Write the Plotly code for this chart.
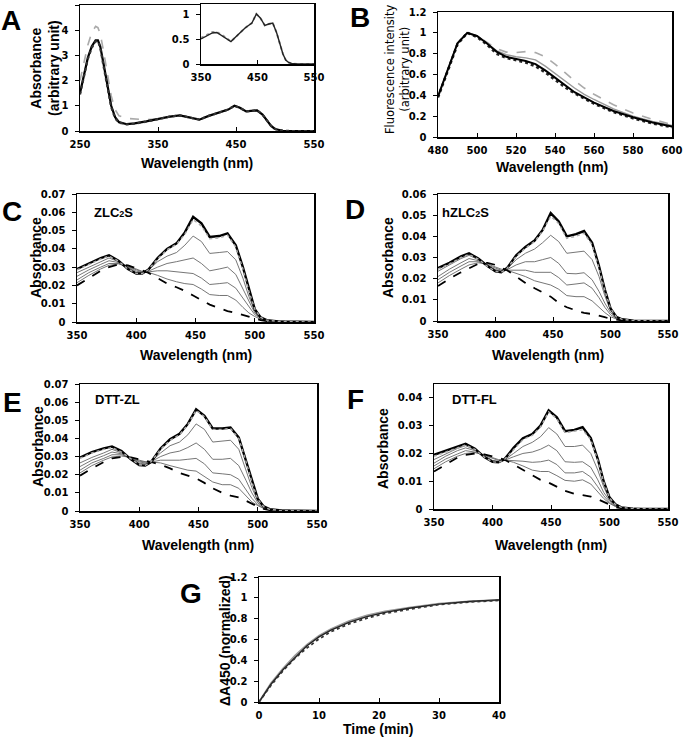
import plotly.graph_objects as go

W, H = 683, 742
TICKFONT = "DejaVu Sans, Verdana, sans-serif"
TITLEFONT = "Liberation Sans, Arial, sans-serif"

# ---------------- Panel A ----------------
A_wl = [250, 255, 260, 265, 270, 273, 276, 280, 285, 290, 295, 300, 310, 320, 335, 350, 365, 378, 390,
        403, 415, 428, 440, 448, 455, 463, 470, 477, 484, 490, 495, 500, 505, 510, 520, 550]
A_black = [1.5, 2.2, 2.9, 3.35, 3.6, 3.6, 3.35, 2.7, 1.8, 1.0, 0.55, 0.35, 0.27, 0.3, 0.38, 0.48, 0.57, 0.62, 0.55,
           0.45, 0.6, 0.72, 0.85, 1.0, 0.92, 0.78, 0.8, 0.82, 0.65, 0.4, 0.2, 0.08, 0.03, 0.01, 0.0, 0.0]
A_dotted = [1.45, 2.15, 2.85, 3.3, 3.55, 3.57, 3.3, 2.6, 1.7, 0.95, 0.5, 0.33, 0.26, 0.29, 0.37, 0.48, 0.57, 0.62, 0.55,
            0.45, 0.6, 0.72, 0.85, 1.0, 0.92, 0.78, 0.8, 0.82, 0.65, 0.4, 0.2, 0.08, 0.03, 0.01, 0.0, 0.0]
A_gray = [2.0, 2.7, 3.4, 3.9, 4.15, 4.1, 3.85, 3.2, 2.3, 1.4, 0.85, 0.6, 0.5, 0.47, 0.45, 0.48, 0.57, 0.62, 0.55,
          0.45, 0.6, 0.72, 0.85, 1.0, 0.92, 0.78, 0.8, 0.82, 0.65, 0.4, 0.2, 0.08, 0.03, 0.01, 0.0, 0.0]

# inset of A
In_wl = [350, 360, 370, 378, 390, 403, 415, 428, 440, 448, 455, 463, 470, 477, 484, 490, 495, 500, 505, 510, 520, 550]
In_black = [0.5, 0.56, 0.62, 0.63, 0.55, 0.45, 0.58, 0.72, 0.82, 1.0, 0.92, 0.77, 0.8, 0.82, 0.62, 0.38, 0.2, 0.08, 0.03, 0.01, 0.0, 0.0]
In_gray = [0.52, 0.58, 0.64, 0.64, 0.56, 0.45, 0.58, 0.72, 0.82, 1.0, 0.92, 0.77, 0.8, 0.82, 0.62, 0.38, 0.2, 0.08, 0.03, 0.01, 0.0, 0.0]

# ---------------- Panel B ----------------
B_wl = [480, 485, 490, 495, 500, 505, 510, 515, 520, 525, 530, 535, 540, 545, 550, 555, 560, 570, 580, 590, 600]
B_black = [0.39, 0.65, 0.9, 1.0, 0.97, 0.9, 0.82, 0.77, 0.75, 0.73, 0.7, 0.64, 0.57, 0.5, 0.43, 0.38, 0.33, 0.25, 0.19, 0.14, 0.1]
B_dotted = [0.38, 0.64, 0.89, 1.0, 0.96, 0.89, 0.8, 0.76, 0.735, 0.715, 0.68, 0.62, 0.55, 0.48, 0.42, 0.37, 0.32, 0.24, 0.18, 0.13, 0.095]
B_graysolid = [0.39, 0.65, 0.9, 1.0, 0.97, 0.9, 0.83, 0.79, 0.77, 0.76, 0.74, 0.68, 0.61, 0.54, 0.47, 0.41, 0.36, 0.27, 0.2, 0.15, 0.11]
B_graydash = [0.38, 0.64, 0.9, 1.0, 0.97, 0.91, 0.85, 0.815, 0.81, 0.82, 0.81, 0.77, 0.7, 0.62, 0.54, 0.47, 0.41, 0.31, 0.23, 0.17, 0.12]

# ---------------- Panels C-F (titration spectra) ----------------
WL = [350, 360, 370, 377, 385, 393, 400, 405, 410, 418, 426, 434, 441, 448, 455, 462, 470, 477, 484, 490, 495, 500, 505, 510, 520, 550]

C_init = [0.020, 0.024, 0.028, 0.030, 0.0315, 0.031, 0.0295, 0.028, 0.027, 0.024, 0.021, 0.019, 0.017, 0.0145, 0.012, 0.0095, 0.0075, 0.006, 0.005, 0.004, 0.003, 0.002, 0.001, 0.0005, 0.0002, 0.0]
C_t1 = [0.0215, 0.0255, 0.029, 0.031, 0.0318, 0.0305, 0.029, 0.0277, 0.0272, 0.0255, 0.0235, 0.022, 0.021, 0.0205, 0.018, 0.015, 0.0145, 0.0145, 0.012, 0.008, 0.005, 0.003, 0.0015, 0.0007, 0.0002, 0.0]
C_t2 = [0.023, 0.027, 0.030, 0.032, 0.032, 0.030, 0.0283, 0.0274, 0.0274, 0.028, 0.028, 0.0275, 0.0272, 0.0265, 0.024, 0.0205, 0.021, 0.0215, 0.0185, 0.013, 0.008, 0.004, 0.002, 0.0008, 0.0002, 0.0]
C_t3 = [0.025, 0.0285, 0.0315, 0.0335, 0.0325, 0.0298, 0.0278, 0.0272, 0.0277, 0.030, 0.032, 0.033, 0.0342, 0.035, 0.032, 0.028, 0.029, 0.030, 0.026, 0.018, 0.011, 0.005, 0.002, 0.0008, 0.0002, 0.0]
C_t4 = [0.027, 0.030, 0.033, 0.035, 0.033, 0.0295, 0.027, 0.0268, 0.028, 0.033, 0.036, 0.038, 0.042, 0.047, 0.044, 0.0375, 0.038, 0.0385, 0.034, 0.024, 0.014, 0.006, 0.0022, 0.0009, 0.0002, 0.0]
C_t5 = [0.0285, 0.0315, 0.0345, 0.036, 0.0333, 0.029, 0.0266, 0.0265, 0.0284, 0.0345, 0.0395, 0.0425, 0.048, 0.056, 0.0525, 0.0455, 0.046, 0.0475, 0.041, 0.029, 0.017, 0.007, 0.0025, 0.001, 0.0003, 0.0]
C_final = [0.029, 0.032, 0.035, 0.0365, 0.0335, 0.029, 0.0265, 0.0265, 0.0285, 0.035, 0.040, 0.043, 0.049, 0.0575, 0.054, 0.0465, 0.047, 0.0485, 0.042, 0.030, 0.018, 0.007, 0.0025, 0.001, 0.0003, 0.0]

D_init = [0.0165, 0.020, 0.023, 0.025, 0.027, 0.0275, 0.0265, 0.025, 0.024, 0.021, 0.018, 0.0155, 0.0135, 0.0115, 0.0085, 0.0065, 0.005, 0.0038, 0.0033, 0.0026, 0.0018, 0.001, 0.0005, 0.0003, 0.0001, 0.0]
D_t1 = [0.018, 0.0215, 0.0245, 0.0265, 0.0275, 0.027, 0.0255, 0.0245, 0.024, 0.0225, 0.021, 0.019, 0.018, 0.017, 0.015, 0.012, 0.0115, 0.0115, 0.0095, 0.0065, 0.004, 0.002, 0.001, 0.0004, 0.0001, 0.0]
D_t2 = [0.0195, 0.023, 0.026, 0.028, 0.028, 0.0265, 0.025, 0.024, 0.024, 0.024, 0.024, 0.023, 0.023, 0.023, 0.0205, 0.017, 0.0175, 0.018, 0.0155, 0.011, 0.0065, 0.003, 0.0012, 0.0005, 0.0001, 0.0]
D_t3 = [0.021, 0.0245, 0.0275, 0.0295, 0.0285, 0.026, 0.0243, 0.0237, 0.0242, 0.0265, 0.028, 0.028, 0.029, 0.030, 0.0272, 0.0225, 0.0223, 0.0228, 0.0195, 0.014, 0.0085, 0.004, 0.0015, 0.0006, 0.0001, 0.0]
D_t4 = [0.0235, 0.0265, 0.0295, 0.031, 0.029, 0.026, 0.0237, 0.0232, 0.0245, 0.029, 0.032, 0.034, 0.037, 0.0405, 0.0375, 0.032, 0.0325, 0.033, 0.029, 0.021, 0.012, 0.005, 0.0018, 0.0007, 0.0002, 0.0]
D_t5 = [0.0245, 0.027, 0.030, 0.0315, 0.0292, 0.0258, 0.0235, 0.023, 0.0248, 0.0305, 0.0345, 0.0375, 0.0425, 0.0495, 0.046, 0.039, 0.040, 0.0415, 0.036, 0.025, 0.0145, 0.006, 0.002, 0.0008, 0.0002, 0.0]
D_final = [0.025, 0.0275, 0.0305, 0.032, 0.0295, 0.026, 0.0235, 0.023, 0.025, 0.031, 0.035, 0.038, 0.043, 0.051, 0.047, 0.040, 0.041, 0.0425, 0.037, 0.026, 0.015, 0.006, 0.002, 0.0008, 0.0002, 0.0]

E_init = [0.0195, 0.0235, 0.027, 0.029, 0.0298, 0.0295, 0.0285, 0.0278, 0.027, 0.0255, 0.0235, 0.021, 0.0195, 0.018, 0.0155, 0.0125, 0.010, 0.0085, 0.0075, 0.0055, 0.004, 0.0025, 0.0012, 0.0005, 0.0002, 0.0]
E_t1 = [0.021, 0.025, 0.028, 0.0298, 0.0303, 0.0295, 0.028, 0.0272, 0.027, 0.0265, 0.025, 0.0235, 0.0225, 0.022, 0.019, 0.016, 0.0145, 0.0145, 0.0125, 0.0085, 0.005, 0.003, 0.0014, 0.0006, 0.0002, 0.0]
E_t2 = [0.0225, 0.0265, 0.029, 0.031, 0.031, 0.0293, 0.0275, 0.027, 0.027, 0.028, 0.028, 0.028, 0.0285, 0.029, 0.026, 0.021, 0.0205, 0.020, 0.0175, 0.012, 0.007, 0.0035, 0.0015, 0.0006, 0.0002, 0.0]
E_t3 = [0.0245, 0.028, 0.0305, 0.0325, 0.0315, 0.029, 0.027, 0.0265, 0.0272, 0.030, 0.032, 0.033, 0.035, 0.0375, 0.034, 0.0285, 0.0285, 0.029, 0.025, 0.017, 0.010, 0.0045, 0.0018, 0.0007, 0.0002, 0.0]
E_t4 = [0.0265, 0.0295, 0.032, 0.034, 0.032, 0.0288, 0.0263, 0.026, 0.0273, 0.032, 0.036, 0.038, 0.042, 0.048, 0.045, 0.038, 0.0385, 0.039, 0.034, 0.023, 0.013, 0.0055, 0.002, 0.0008, 0.0002, 0.0]
E_t5 = [0.029, 0.032, 0.034, 0.035, 0.0325, 0.0285, 0.0255, 0.0252, 0.0272, 0.034, 0.039, 0.042, 0.0475, 0.0555, 0.052, 0.045, 0.045, 0.0455, 0.040, 0.0275, 0.016, 0.0065, 0.0024, 0.0009, 0.0002, 0.0]
E_final = [0.0295, 0.0325, 0.0345, 0.0355, 0.033, 0.0285, 0.0253, 0.025, 0.027, 0.0345, 0.0395, 0.0425, 0.048, 0.056, 0.0525, 0.0455, 0.0455, 0.046, 0.0405, 0.028, 0.0165, 0.0068, 0.0025, 0.001, 0.0003, 0.0]

F_init = [0.0135, 0.016, 0.0185, 0.0195, 0.020, 0.0197, 0.019, 0.0183, 0.0178, 0.016, 0.014, 0.012, 0.0105, 0.0095, 0.008, 0.0065, 0.0055, 0.005, 0.0045, 0.0035, 0.0025, 0.0015, 0.0007, 0.0003, 0.0001, 0.0]
F_t1 = [0.0145, 0.017, 0.019, 0.020, 0.0203, 0.0195, 0.0185, 0.0178, 0.0177, 0.0168, 0.0155, 0.014, 0.0135, 0.0135, 0.012, 0.0103, 0.010, 0.0105, 0.009, 0.0062, 0.0038, 0.002, 0.0009, 0.0004, 0.0001, 0.0]
F_t2 = [0.0155, 0.018, 0.0198, 0.021, 0.0205, 0.0193, 0.018, 0.0175, 0.0176, 0.0175, 0.0172, 0.0168, 0.017, 0.0176, 0.016, 0.013, 0.013, 0.0135, 0.0115, 0.008, 0.0048, 0.0024, 0.001, 0.0004, 0.0001, 0.0]
F_t3 = [0.0165, 0.019, 0.021, 0.022, 0.021, 0.019, 0.0175, 0.0172, 0.0175, 0.0188, 0.020, 0.0205, 0.0215, 0.023, 0.021, 0.017, 0.0168, 0.017, 0.015, 0.0105, 0.006, 0.003, 0.0012, 0.0005, 0.0001, 0.0]
F_t4 = [0.0178, 0.0198, 0.0218, 0.0228, 0.0213, 0.0188, 0.0172, 0.017, 0.0176, 0.020, 0.0225, 0.024, 0.026, 0.0293, 0.027, 0.0225, 0.0225, 0.023, 0.020, 0.014, 0.008, 0.0035, 0.0014, 0.0005, 0.0001, 0.0]
F_t5 = [0.019, 0.0205, 0.0222, 0.023, 0.0215, 0.0187, 0.017, 0.0168, 0.0177, 0.0215, 0.025, 0.0265, 0.0295, 0.035, 0.0325, 0.0275, 0.028, 0.0285, 0.025, 0.0175, 0.0098, 0.004, 0.0016, 0.0006, 0.0001, 0.0]
F_final = [0.0195, 0.021, 0.0225, 0.0235, 0.0217, 0.0187, 0.017, 0.0168, 0.0178, 0.022, 0.0255, 0.027, 0.030, 0.0355, 0.033, 0.028, 0.0285, 0.0295, 0.0255, 0.018, 0.010, 0.0042, 0.0017, 0.0006, 0.0001, 0.0]

# ---------------- Panel G ----------------
G_t = [0, 2, 4, 6, 8, 10, 12, 15, 18, 21, 25, 30, 35, 40]
G_black = [0, 0.17, 0.31, 0.43, 0.54, 0.625, 0.69, 0.765, 0.82, 0.86, 0.9, 0.94, 0.965, 0.98]
G_gray = [0, 0.18, 0.32, 0.445, 0.55, 0.635, 0.7, 0.775, 0.83, 0.868, 0.905, 0.943, 0.966, 0.98]
G_dotted = [0, 0.16, 0.3, 0.42, 0.52, 0.605, 0.675, 0.75, 0.805, 0.85, 0.89, 0.935, 0.96, 0.975]

# ---------------- layout helpers ----------------
fig = go.Figure()


def dx(x0, x1):
    return [x0 / W, x1 / W]


def dy(y0, y1):
    return [1 - y1 / H, 1 - y0 / H]


def add_axes(n, box, xr, xd, yr, yd=None, ytickvals=None):
    (x0, x1), (y0, y1) = box
    common = dict(showline=True, linecolor="black", linewidth=1.5, mirror=True,
                  ticklen=4, tickwidth=1, tickcolor="black", showgrid=False, zeroline=False,
                  automargin=False,
                  tickfont=dict(family=TICKFONT, size=10, color="black", weight="bold"))
    sfx = "" if n == 1 else str(n)
    xa = dict(common, domain=dx(x0, x1), range=xr, anchor="y" + sfx, ticks="inside",
              ticklabelstandoff=3, dtick=xd, tick0=xr[0])
    ya = dict(common, domain=dy(y0, y1), range=yr, anchor="x" + sfx, ticks="outside",
              ticklabelstandoff=4)
    if ytickvals is not None:
        ya["tickvals"] = ytickvals
    else:
        ya["dtick"] = yd
        ya["tick0"] = 0
    fig.update_layout(**{"xaxis" + sfx: xa, "yaxis" + sfx: ya})


def add_line(n, x, y, color, width, dash="solid"):
    sfx = "" if n == 1 else str(n)
    fig.add_trace(go.Scatter(x=x, y=y, mode="lines", xaxis="x" + sfx, yaxis="y" + sfx,
                             line=dict(color=color, width=width, dash=dash), showlegend=False,
                             hoverinfo="skip"))


add_axes(1, ((80, 314), (5, 131)), [250, 550], 100, [0, 5], 1)
add_axes(2, ((201, 314), (4, 64)), [350, 550], 100, [0, 1.2], ytickvals=[0, 0.5, 1])
add_axes(3, ((438, 672), (12, 137)), [480, 600], 20, [0, 1.2], 0.2)
add_axes(4, ((77, 314), (194, 322)), [350, 550], 50, [0, 0.07], 0.01)
add_axes(5, ((438, 668), (194, 321)), [350, 550], 50, [0, 0.06], 0.01)
add_axes(6, ((80, 317), (384, 511)), [350, 550], 50, [0, 0.07], 0.01)
add_axes(7, ((434, 668), (384, 509)), [350, 550], 50, [0, 0.045], 0.01)
add_axes(8, ((259, 499), (577, 702)), [0, 40], 10, [0, 1.2], 0.2)

# Panel A
add_line(1, A_wl, A_gray, "#aaaaaa", 1.6, "dash")
add_line(1, A_wl, A_black, "black", 2.2)
add_line(1, A_wl, A_dotted, "#333333", 2.2, "dot")
add_line(2, In_wl, In_gray, "#999999", 2.0, "dot")
add_line(2, In_wl, In_black, "#222222", 1.4)

# Panel B
add_line(3, B_wl, B_graydash, "#aaaaaa", 1.6, "dash")
add_line(3, B_wl, B_graysolid, "#999999", 1.4)
add_line(3, B_wl, B_dotted, "#222222", 2.6, "dot")
add_line(3, B_wl, B_black, "black", 2.0)

# Panels C-F
for n, curves in [(4, (C_init, C_t1, C_t2, C_t3, C_t4, C_t5, C_final)),
                  (5, (D_init, D_t1, D_t2, D_t3, D_t4, D_t5, D_final)),
                  (6, (E_init, E_t1, E_t2, E_t3, E_t4, E_t5, E_final)),
                  (7, (F_init, F_t1, F_t2, F_t3, F_t4, F_t5, F_final))]:
    init, t1, t2, t3, t4, t5, final = curves
    for t in (t1, t2, t3, t4):
        add_line(n, WL, t, "#666666", 0.9)
    add_line(n, WL, init, "black", 1.8, "dash")
    add_line(n, WL, final, "black", 2.4)
    add_line(n, WL, t5, "#aaaaaa", 1.4, "dot")

# Panel G
add_line(8, G_t, G_gray, "#999999", 2.0)
add_line(8, G_t, G_black, "#222222", 1.4)
add_line(8, G_t, G_dotted, "#333333", 1.8, "dot")

# ---------------- annotations ----------------
ann = []


def text(x, y, s, size, family=TITLEFONT, angle=0, xanchor="center", weight="bold"):
    ann.append(dict(x=x / W, y=1 - y / H, xref="paper", yref="paper", text=s, showarrow=False,
                    textangle=angle, xanchor=xanchor, yanchor="middle",
                    font=dict(family=family, size=size, color="black", weight=weight)))


for lab, x, y in [("A", 11, 20), ("B", 360, 18), ("C", 12, 211), ("D", 355, 210),
                  ("E", 12, 402), ("F", 355, 399), ("G", 191, 593)]:
    text(x, y, lab, 28)

text(92, 212, "ZLC<span style='font-size:9px'>2</span>S", 13, xanchor="left")
text(440, 212, "hZLC<span style='font-size:9px'>2</span>S", 13, xanchor="left")
text(93, 400, "DTT-ZL", 13, xanchor="left")
text(450, 400, "DTT-FL", 13, xanchor="left")

# x titles
for x, y in [(197, 163), (552, 167), (196, 355), (548, 355), (198, 545), (551, 545)]:
    text(x, y, "Wavelength (nm)", 14)
text(378, 729, "Time (min)", 14)

# y titles
text(45, 68, "Absorbance<br>(arbitrary unit)", 14, angle=-90)
text(398, 70, "Fluorescence intensity<br>(arbitrary unit)", 11.5, family=TICKFONT, angle=-90, weight="normal")
text(36, 258, "Absorbance", 14, angle=-90)
text(388, 258, "Absorbance", 14, angle=-90)
text(38, 447, "Absorbance", 14, angle=-90)
text(383, 449, "Absorbance", 14, angle=-90)
text(225, 641, "ΔA450 (normalized)", 14, angle=-90)

fig.update_layout(width=W, height=H, autosize=False, margin=dict(l=0, r=0, t=0, b=0, autoexpand=False),
                  paper_bgcolor="white", plot_bgcolor="white", annotations=ann, showlegend=False)

fig.write_html("out.html", config={"displayModeBar": False, "staticPlot": True},
               post_script="document.body.style.margin='0';document.body.style.padding='0';"
                           "document.body.style.overflow='hidden';")
